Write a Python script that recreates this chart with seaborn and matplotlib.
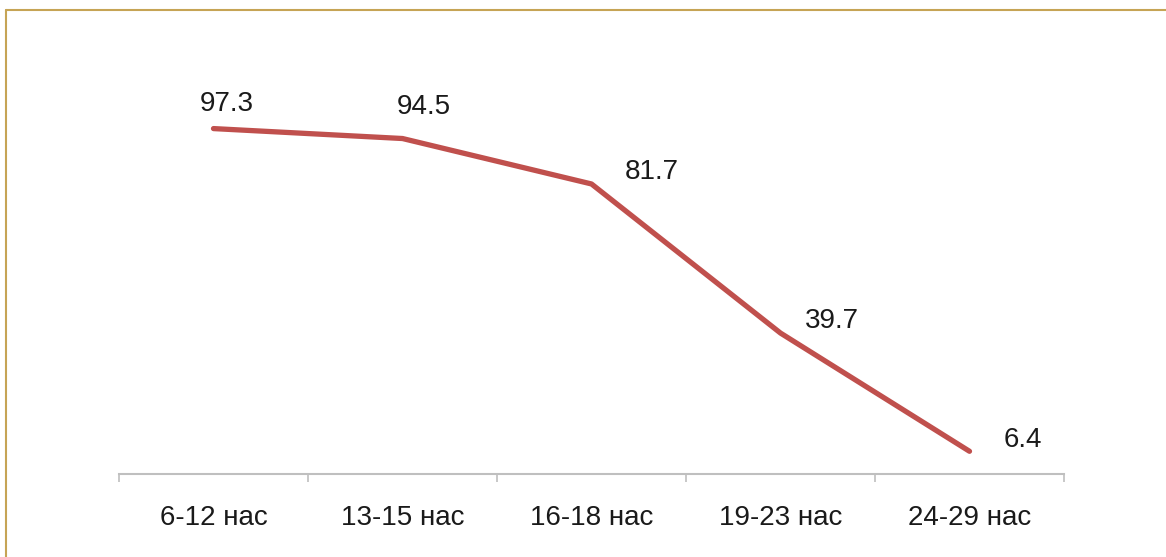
import matplotlib
matplotlib.use("Agg")
import pandas as pd
import seaborn as sns
import matplotlib.pyplot as plt
from matplotlib.lines import Line2D

ages = ["6-12 нас", "13-15 нас", "16-18 нас", "19-23 нас", "24-29 нас"]
values = [97.3, 94.5, 81.7, 39.7, 6.4]

# label offsets in pixels (right, up) as they sit in the picture
label_dx = [13, 21, 60, 51, 53]
label_dy = [25, 32, 12, 12, 11]

sns.set_theme(style="white")
plt.rcParams['font.family'] = ['Liberation Sans', 'DejaVu Sans']

df = pd.DataFrame({"age": ages, "value": values})

fig = plt.figure(figsize=(11.66, 5.57), dpi=100)
ax = fig.add_axes([119 / 1166, 1 - 474 / 557, 945 / 1166, (474 - 48) / 557])

sns.lineplot(data=df, x="age", y="value", ax=ax, color="#C0504D", linewidth=3.8,
             solid_capstyle="round", solid_joinstyle="round", sort=False)

for i, (v, dx, dy) in enumerate(zip(values, label_dx, label_dy)):
    ax.annotate(f"{v}", xy=(i, v), xytext=(dx * 0.72, dy * 0.72), textcoords="offset points",
                ha="center", va="center", fontsize=20, color="#1a1a1a", annotation_clip=False)

ax.set_xlim(-0.5, len(ages) - 0.5)
ax.set_ylim(0, 120)
ax.set_xlabel("")
ax.set_ylabel("")
ax.set_yticks([])

# tick marks on category borders, labels in the middle
ax.set_xticks([i - 0.5 for i in range(len(ages) + 1)])
ax.set_xticklabels([])
ax.set_xticks(range(len(ages)), minor=True)
ax.set_xticklabels(ages, minor=True, fontsize=20, color="#1a1a1a")
ax.tick_params(axis="x", which="major", length=6, width=1.2, color="#BFBFBF", direction="out", bottom=True)
ax.tick_params(axis="x", which="minor", length=0, pad=22)

for s in ["top", "right", "left"]:
    ax.spines[s].set_visible(False)
ax.spines["bottom"].set_color("#BFBFBF")
ax.spines["bottom"].set_linewidth(1.5)

# figure frame (left and top edges visible)
fig.add_artist(Line2D([6 / 1166, 6 / 1166], [0, 1 - 10 / 557], color="#C6A455", linewidth=1.5))
fig.add_artist(Line2D([6 / 1166, 1], [1 - 10 / 557, 1 - 10 / 557], color="#C6A455", linewidth=1.5))

fig.savefig("out.png", dpi=100)
